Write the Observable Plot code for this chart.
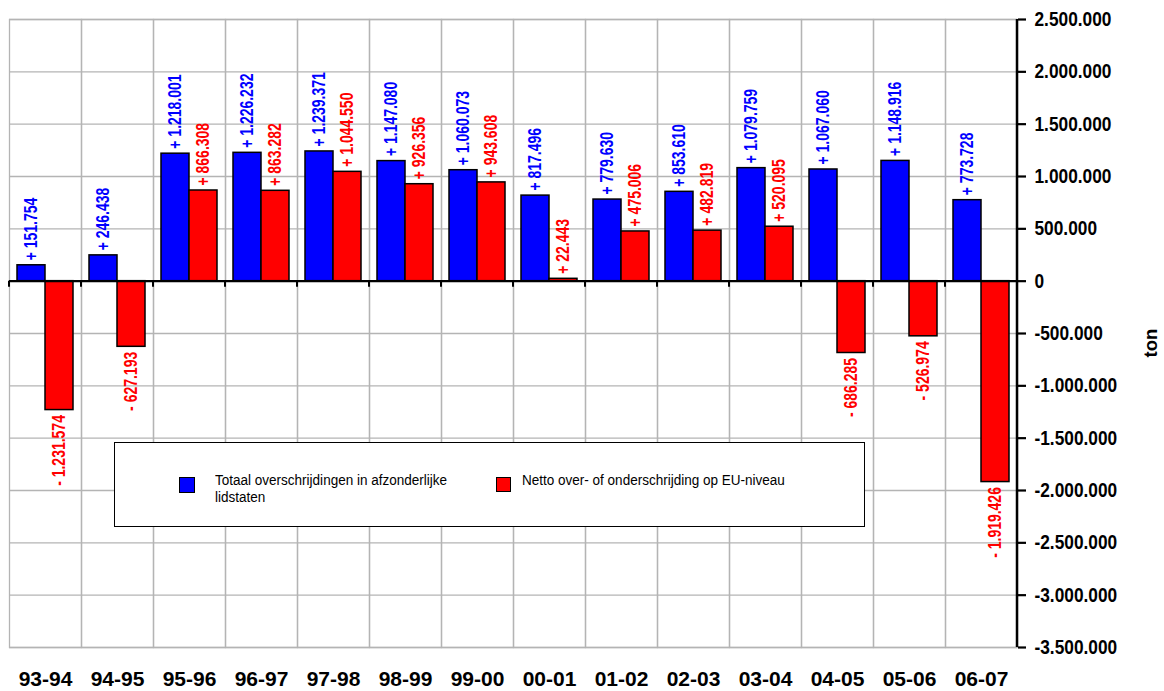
<!DOCTYPE html>
<html>
<head>
<meta charset="utf-8">
<script src="https://cdn.jsdelivr.net/npm/d3@7"></script>
<script src="https://cdn.jsdelivr.net/npm/@observablehq/plot@0.6"></script>
<style>
  html, body { margin: 0; padding: 0; background: #fff; }
  #wrap { position: relative; width: 1164px; height: 691px; font-family: "Liberation Sans", Arial, sans-serif; }
  #legend { position: absolute; left: 114px; top: 442px; width: 751px; height: 85px; background: #fff; border: 1px solid #000; box-sizing: border-box; }
  .sw { position: absolute; border: 1.5px solid #000; box-sizing: border-box; }
  .lt { position: absolute; color: #000; font-size: 14px; line-height: 17px; white-space: nowrap; transform: scaleX(0.965); transform-origin: 0 0; font-family: "Liberation Sans", Arial, sans-serif; }
</style>
</head>
<body>
<div id="wrap"></div>
<script>
const categories = ["93-94","94-95","95-96","96-97","97-98","98-99","99-00","00-01","01-02","02-03","03-04","04-05","05-06","06-07"];
const totaal = [151754, 246438, 1218001, 1226232, 1239371, 1147080, 1060073, 817496, 779630, 853610, 1079759, 1067060, 1148916, 773728];
const netto = [-1231574, -627193, 866308, 863282, 1044550, 926356, 943608, 22443, 475006, 482819, 520095, -686285, -526974, -1919426];
const seriesNames = ["Totaal overschrijdingen in afzonderlijke", "lidstaten", "Netto over- of onderschrijding op EU-niveau"];
const seriesColors = ["#0000ff", "#ff0000"];
const yTicks = [2500000, 2000000, 1500000, 1000000, 500000, 0, -500000, -1000000, -1500000, -2000000, -2500000, -3000000, -3500000];
const unitLabel = "ton";

const normFam = '"Liberation Sans", Arial, sans-serif';

const loc = d3.formatLocale({decimal: ",", thousands: ".", grouping: [3], currency: ["", ""], minus: "-"});
const fmt = loc.format(",d");
const signed = v => (v >= 0 ? "+ " : "- ") + fmt(Math.abs(v));

const rows = [];
categories.forEach((c, i) => {
  rows.push({cat: c, s: "a", value: totaal[i], color: seriesColors[0]});
  rows.push({cat: c, s: "b", value: netto[i], color: seriesColors[1]});
});

const chart = Plot.plot({
  width: 1164,
  height: 691,
  marginLeft: 8,
  marginRight: 147,
  marginTop: 19,
  marginBottom: 44,
  style: {fontFamily: normFam, background: "#fff"},
  fx: {domain: categories, padding: 0, label: null},
  x: {domain: ["a", "b"], paddingInner: 0, paddingOuter: 0.25, axis: null},
  y: {domain: [-3500000, 2500000], label: null},
  marks: [
    Plot.gridY(yTicks, {stroke: "#b4b4b4", strokeOpacity: 1, strokeWidth: 1.3}),
    Plot.frame({stroke: "#b4b4b4", strokeWidth: 1.3}),
    Plot.barY(rows, {fx: "cat", x: "s", y: "value", fill: "color", stroke: "#000", strokeWidth: 1.5}),
    Plot.ruleY([0], {stroke: "#000", strokeWidth: 2.2}),
    Plot.text(rows.filter(d => d.value >= 0), {fx: "cat", x: "s", y: "value", text: d => signed(d.value), fill: "color", rotate: -90, textAnchor: "start", dy: -5, fontSize: 17.5, fontWeight: "bold"}),
    Plot.text(rows.filter(d => d.value < 0), {fx: "cat", x: "s", y: "value", text: d => signed(d.value), fill: "color", rotate: -90, textAnchor: "end", dy: 5, fontSize: 17.5, fontWeight: "bold"}),
    Plot.axisY(yTicks, {anchor: "right", tickSize: 8, tickPadding: 9, tickFormat: fmt, strokeWidth: 2.2, label: null}),
    Plot.axisFx({anchor: "bottom", tickSize: 0, tickPadding: 24, label: null})
  ]
});

const wrap = document.getElementById("wrap");
wrap.appendChild(chart);
const svg = d3.select(chart);

// condensed look for bar value labels (compress along the text direction)
svg.selectAll('g[aria-label="text"] text').each(function() {
  const t = this.getAttribute("transform") || "";
  this.setAttribute("transform", t + " scale(0.8,1)");
});

// y tick label styling (condensed bold)
svg.selectAll('g[aria-label="y-axis tick label"] text')
  .style("font-size", "20px").style("font-weight", "bold").attr("fill", "#000")
  .each(function() {
    const t = this.getAttribute("transform") || "";
    this.setAttribute("transform", t + " scale(0.865,1)");
  });
svg.selectAll('g[aria-label="fx-axis tick label"] text')
  .style("font-size", "21px").style("font-weight", "bold").attr("fill", "#000");

// axis line at right using the y scale
const ys = chart.scale("y");
const axisX = 1164 - 147;
svg.append("line").attr("x1", axisX).attr("x2", axisX)
  .attr("y1", ys.apply(2500000)).attr("y2", ys.apply(-3500000))
  .attr("stroke", "#000").attr("stroke-width", 2.5);

// small ticks under zero line at category boundaries
const fxs = chart.scale("fx");
categories.forEach((c) => {
  const xb = fxs.apply(c);
  svg.append("line").attr("x1", xb).attr("x2", xb).attr("y1", ys.apply(0)).attr("y2", ys.apply(0) + 6)
    .attr("stroke", "#000").attr("stroke-width", 2);
});

// unit label
svg.append("text").attr("transform", `translate(1152, ${(ys.apply(0) + ys.apply(-1000000)) / 2 + 10}) rotate(-90)`)
  .attr("text-anchor", "middle").attr("dominant-baseline", "middle")
  .style("font-size", "18.5px").style("font-weight", "bold").text(unitLabel);

// legend
const lg = document.createElement("div");
lg.id = "legend";
lg.innerHTML = `
  <div class="sw" style="left:64px; top:34px; width:16px; height:16px; background:${seriesColors[0]}"></div>
  <div class="lt" style="left:100px; top:29px;">${seriesNames[0]}<br>${seriesNames[1]}</div>
  <div class="sw" style="left:381px; top:34px; width:15px; height:15px; background:${seriesColors[1]}"></div>
  <div class="lt" style="left:407px; top:29px;">${seriesNames[2]}</div>
`;
wrap.appendChild(lg);
</script>
</body>
</html>
